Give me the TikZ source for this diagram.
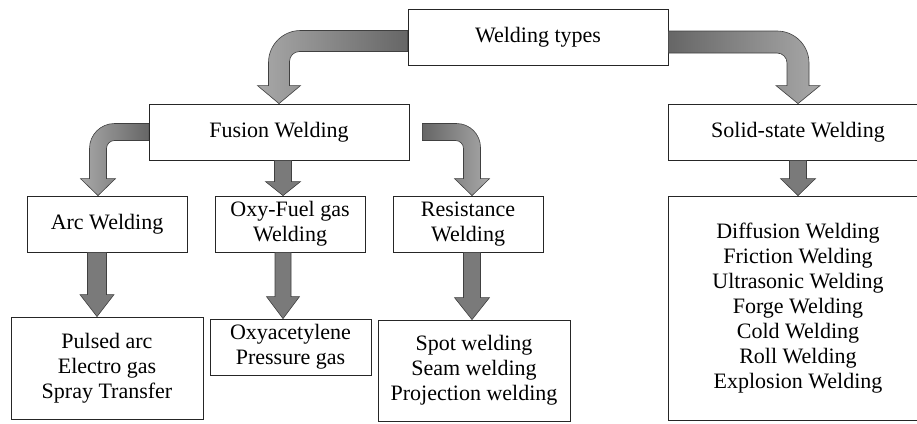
\documentclass[tikz,border=0pt]{standalone}
\usepackage{fontspec}
\setmainfont{Liberation Serif}
\usetikzlibrary{calc}

\definecolor{arrowdark}{HTML}{666666}
\definecolor{arrowlight}{HTML}{A8A8A8}
\definecolor{arrowmid}{HTML}{7A7A7A}
\definecolor{arrowline}{HTML}{404040}

% bent block arrow: #1 extra style, #2 start, #3 tip,
% #4 half shaft, #5 half head, #6 head length, #7 outer radius, #8 inner radius
\newcommand{\bendarrow}[8]{%
  \path[blockarrow,#1] let \p1=(#2), \p2=(#3), \n1={sign(\x2-\x1)} in
    (\x1,\y1+#4) -- (\x2+\n1*#4-\n1*#7,\y1+#4)
    arc[start angle=90, end angle=90-90*\n1, radius=#7]
    -- (\x2+\n1*#4,\y2+#6) -- (\x2+\n1*#5,\y2+#6) -- (\x2,\y2)
    -- (\x2-\n1*#5,\y2+#6) -- (\x2-\n1*#4,\y2+#6)
    -- (\x2-\n1*#4,\y1-#4-#8)
    arc[start angle=90-90*\n1, end angle=90, radius=#8]
    -- (\x1,\y1-#4) -- cycle;}

% straight block arrow: #1 extra style, #2 start, #3 tip,
% #4 half shaft, #5 half head, #6 head length
\newcommand{\droparrow}[6]{%
  \path[blockarrow,fill=arrowmid,#1] let \p1=(#2), \p2=(#3) in
    (\x1-#4,\y1) -- (\x1-#4,\y2+#6) -- (\x1-#5,\y2+#6) -- (\x1,\y2)
    -- (\x1+#5,\y2+#6) -- (\x1+#4,\y2+#6) -- (\x1+#4,\y1) -- cycle;}

\begin{document}
\begin{tikzpicture}[x=1pt, y=1pt,
  box/.style={draw=black!85, line width=0.8pt, fill=white, align=center,
    inner sep=0pt, font=\fontsize{22}{25}\selectfont},
  blockarrow/.style={draw=arrowline, line width=0.6pt},
  fade left/.style={left color=arrowlight, right color=arrowdark},
  fade right/.style={left color=arrowdark, right color=arrowlight}]
  \clip (0,0) rectangle (917,-423);

  % top level
  \node[box, minimum width=260pt, minimum height=56pt] (types) at (538,-37) {Welding types};
  \node[box, minimum width=260pt, minimum height=56pt] (fusion) at (279,-132) {Fusion Welding};
  \node[box, minimum width=260pt, minimum height=56pt] (solid) at (798,-132) {Solid-state Welding};

  % fusion branches
  \node[box, minimum width=160pt, minimum height=56pt] (arc) at (107,-224) {Arc Welding};
  \node[box, minimum width=150pt, minimum height=56pt] (oxy) at (290,-224) {Oxy-Fuel gas\\Welding};
  \node[box, minimum width=150pt, minimum height=56pt] (resist) at (468,-224) {Resistance\\Welding};

  % processes
  \node[box, minimum width=192pt, minimum height=102pt] (pulsed) at (107,-368) {Pulsed arc\\Electro gas\\Spray Transfer};
  \node[box, minimum width=161pt, minimum height=56pt] (oxyac) at (290.5,-347) {Oxyacetylene\\Pressure gas};
  \node[box, minimum width=192pt, minimum height=101pt] (spot) at (474,-370.5) {Spot welding\\Seam welding\\Projection welding};
  \node[box, minimum width=260pt, minimum height=224pt] (solidlist) at (798,-308)
    {Diffusion Welding\\Friction Welding\\Ultrasonic Welding\\Forge Welding\\Cold Welding\\Roll Welding\\Explosion Welding};

  % arrows
  \bendarrow{fade left}{[yshift=-4pt]types.west}{fusion.north}{10.5}{21.5}{18}{32}{10}
  \bendarrow{fade right}{[yshift=-5pt]types.east}{solid.north}{11}{22}{18}{32}{10}
  \bendarrow{fade left}{fusion.west}{[xshift=-9pt]arc.north}{8.5}{17.5}{17}{25}{8}
  \bendarrow{fade right}{[xshift=13pt]fusion.east}{[xshift=4pt]resist.north}{8.5}{17.5}{17}{24}{8}
  \droparrow{}{[xshift=4pt]fusion.south}{oxy.north}{8.5}{17.5}{14}
  \droparrow{}{[xshift=-10pt]arc.south}{pulsed.north}{9.5}{17}{22}
  \droparrow{}{[xshift=-7pt]oxy.south}{oxyac.north}{8}{16.5}{22}
  \droparrow{}{[xshift=4pt]resist.south}{spot.north}{8.5}{17.5}{22}
  \droparrow{}{solid.south}{solidlist.north}{8.5}{17.5}{17}
\end{tikzpicture}
\end{document}
